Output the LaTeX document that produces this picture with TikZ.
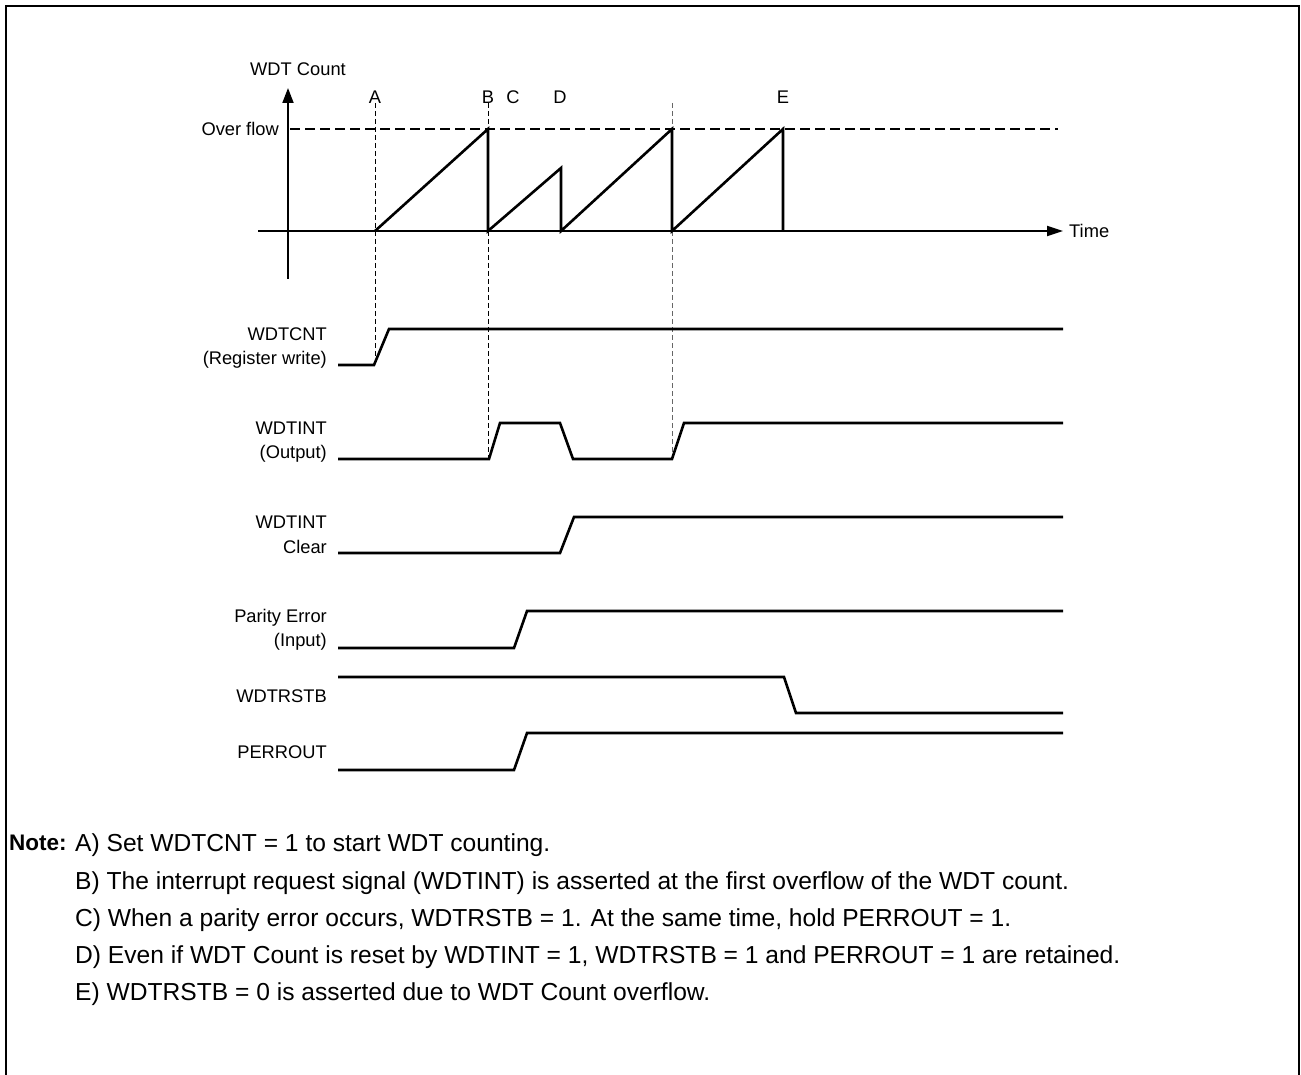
\documentclass[tikz,border=0pt]{standalone}
\usepackage{fontspec}
\setmainfont{Liberation Sans}
\usetikzlibrary{arrows.meta}
\begin{document}
\begin{tikzpicture}[x=1pt,y=-1pt,
  sig/.style={line width=2.6pt,line join=miter},
  axis/.style={line width=1.8pt},
  vdash/.style={line width=1pt,dash pattern=on 5pt off 3pt},
  hdash/.style={line width=1.3pt,dash pattern=on 10pt off 5pt},
  frame/.style={line width=2.2pt},
  lbl/.style={inner sep=0pt,font=\fontsize{18.3}{24.5}\selectfont},
  sigl/.style={lbl,anchor=east,align=right},
  note/.style={inner sep=0pt,anchor=base west,font=\fontsize{24.6}{28}\selectfont}]
\useasboundingbox (0,0) rectangle (1301,1075);
% frame
\draw[frame] (6,1076) -- (6,6) -- (1299,6) -- (1299,1076);
% axes
\draw[axis,-{Triangle[length=15pt,width=11pt]}] (288,279) -- (288,88);
\draw[axis,-{Triangle[length=16pt,width=10pt]}] (258,231) -- (1063,231);
\node[lbl] (wdtcount) at (298,69) {WDT Count};
\node[lbl,anchor=west] (time) at (1069,231) {Time};
\node[lbl,anchor=east] (ovf) at (279,129) {Over flow};
\draw[hdash] (290,129) -- (1058,129);
% markers
\node[lbl] (mA) at (375,97) {A};
\node[lbl] (mB) at (488,97) {B};
\node[lbl] (mC) at (513,97) {C};
\node[lbl] (mD) at (560,97) {D};
\node[lbl] (mE) at (783,97) {E};
\draw[vdash] (375,103) -- (375,365);
\draw[vdash] (488,103) -- (488,459);
\draw[vdash,black!60] (672,103) -- (672,459);
% count ramps
\draw[sig] (375,231) -- (488,129) -- (488,231) -- (561,168) -- (561,231)
  -- (672,129) -- (672,231) -- (783,129) -- (783,231);
% signals
\draw[sig] (338,365) -- (374,365) -- (389,329) -- (1063,329);
\draw[sig] (338,459) -- (489,459) -- (500,423) -- (560,423) -- (573,459)
  -- (672,459) -- (684,423) -- (1063,423);
\draw[sig] (338,553) -- (560,553) -- (574,517) -- (1063,517);
\draw[sig] (338,648) -- (514,648) -- (527,611) -- (1063,611);
\draw[sig] (338,677) -- (784,677) -- (796,713) -- (1063,713);
\draw[sig] (338,770) -- (514,770) -- (527,733) -- (1063,733);
% signal labels
\node[sigl] (l1) at (327,348) {WDTCNT\\(Register write)};
\node[sigl] (l2) at (327,442) {WDTINT\\(Output)};
\node[sigl] (l3) at (327,535) {WDTINT\\Clear};
\node[sigl] (l4) at (327,630) {Parity Error\\(Input)};
\node[sigl] (l5) at (327,696) {WDTRSTB};
\node[sigl] (l6) at (327,752) {PERROUT};
% notes
\node[note,font=\fontsize{22.5}{26}\selectfont\bfseries] (nt) at (9,850) {Note:};
\node[note] (n1) at (75,851) {A) Set WDTCNT = 1 to start WDT counting.};
\node[note] (n2) at (75,889) {B) The interrupt request signal (WDTINT) is asserted at the first overflow of the WDT count.};
\node[note] (n3) at (75,926) {C) When a parity error occurs, WDTRSTB = 1. At the same time, hold PERROUT = 1.};
\node[note] (n4) at (75,963) {D) Even if WDT Count is reset by WDTINT = 1, WDTRSTB = 1 and PERROUT = 1 are retained.};
\node[note] (n5) at (75,1000) {E) WDTRSTB = 0 is asserted due to WDT Count overflow.};
\end{tikzpicture}
\end{document}
